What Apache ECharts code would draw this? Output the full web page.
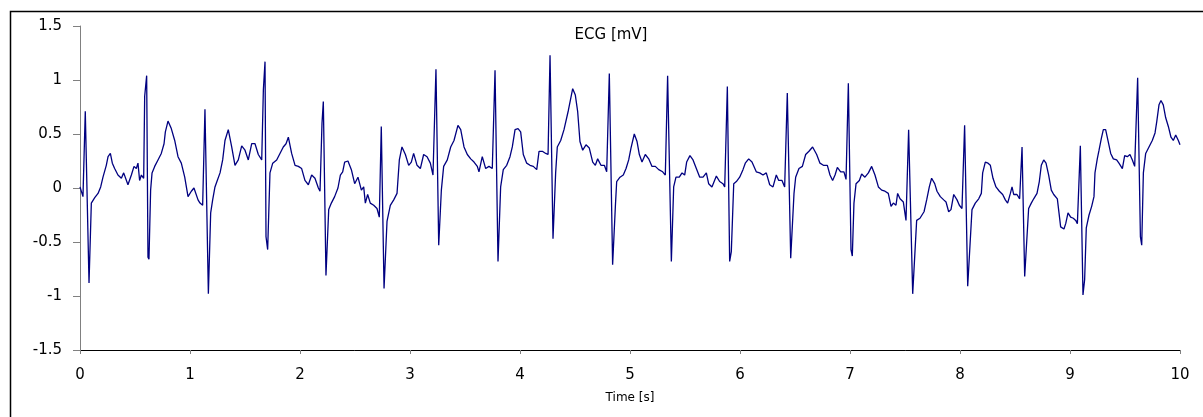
<!DOCTYPE html>
<html>
<head>
<meta charset="utf-8">
<script src="https://cdn.jsdelivr.net/npm/echarts@6/dist/echarts.min.js"></script>
<style>
html,body{margin:0;padding:0;background:#fff;}
#chart{width:1203px;height:417px;}
</style>
</head>
<body>
<div id="chart"></div>
<script>
var timeSec = [
0.000,0.027,0.048,0.082,0.103,0.134,0.164,0.188,0.209,0.239,0.255,0.276,0.294,0.315,0.345,0.376,0.397,0.436,0.467,0.491,
0.512,0.527,0.542,0.558,0.579,0.588,0.606,0.618,0.627,0.642,0.655,0.679,0.709,0.739,0.764,0.776,0.800,0.830,0.861,0.891,
0.921,0.952,0.982,1.012,1.036,1.073,1.091,1.115,1.136,1.167,1.188,1.206,1.227,1.248,1.273,1.297,1.318,1.348,1.379,1.409,
1.439,1.470,1.500,1.530,1.561,1.591,1.621,1.652,1.667,1.682,1.691,1.706,1.727,1.752,1.788,1.818,1.848,1.873,1.894,1.924,
1.955,1.985,2.015,2.045,2.076,2.106,2.136,2.167,2.182,2.200,2.212,2.236,2.261,2.285,2.315,2.345,2.367,2.388,2.406,2.436,
2.467,2.497,2.527,2.558,2.579,2.594,2.615,2.639,2.670,2.700,2.721,2.739,2.764,2.791,2.821,2.852,2.882,2.903,2.927,2.942,
2.958,2.988,3.012,3.033,3.064,3.094,3.124,3.155,3.185,3.209,3.236,3.261,3.285,3.306,3.339,3.370,3.400,3.436,3.461,3.491,
3.521,3.552,3.582,3.612,3.627,3.657,3.688,3.718,3.748,3.773,3.800,3.824,3.848,3.879,3.909,3.930,3.955,3.982,4.006,4.030,
4.061,4.091,4.121,4.152,4.173,4.203,4.234,4.255,4.273,4.300,4.324,4.339,4.370,4.400,4.440,4.479,4.503,4.524,4.545,4.570,
4.600,4.630,4.661,4.685,4.706,4.736,4.767,4.788,4.812,4.842,4.867,4.879,4.909,4.939,4.964,4.988,5.009,5.039,5.064,5.085,
5.109,5.139,5.170,5.200,5.230,5.261,5.297,5.321,5.342,5.376,5.397,5.418,5.448,5.473,5.497,5.515,5.545,5.573,5.603,5.634,
5.664,5.694,5.715,5.745,5.785,5.815,5.845,5.861,5.885,5.906,5.921,5.943,5.967,5.997,6.027,6.048,6.079,6.109,6.148,6.179,
6.209,6.239,6.270,6.300,6.330,6.352,6.382,6.406,6.430,6.461,6.491,6.506,6.536,6.567,6.597,6.627,6.660,6.697,6.727,6.758,
6.794,6.818,6.842,6.864,6.885,6.915,6.945,6.964,6.985,7.009,7.021,7.036,7.055,7.085,7.106,7.136,7.167,7.197,7.227,7.258,
7.288,7.318,7.348,7.373,7.394,7.418,7.433,7.455,7.485,7.509,7.533,7.570,7.606,7.636,7.673,7.697,7.721,7.742,7.770,7.791,
7.821,7.852,7.873,7.897,7.918,7.943,7.973,7.994,8.018,8.042,8.070,8.109,8.139,8.170,8.194,8.206,8.230,8.255,8.276,8.300,
8.327,8.358,8.388,8.412,8.433,8.458,8.473,8.488,8.518,8.542,8.564,8.588,8.624,8.648,8.670,8.700,8.721,8.739,8.761,8.782,
8.806,8.830,8.852,8.885,8.900,8.915,8.945,8.961,8.982,9.006,9.030,9.052,9.067,9.094,9.118,9.133,9.148,9.173,9.197,9.218,
9.227,9.248,9.264,9.285,9.303,9.324,9.345,9.370,9.394,9.424,9.445,9.476,9.497,9.521,9.545,9.567,9.588,9.615,9.640,9.652,
9.667,9.688,9.718,9.748,9.773,9.788,9.809,9.827,9.848,9.870,9.894,9.918,9.939,9.961,9.985,10.000
];
var ecgMv = [
0.01,-0.08,0.71,-0.88,-0.14,-0.09,-0.05,0.01,0.10,0.21,0.29,0.32,0.23,0.18,0.12,0.09,0.14,0.03,0.12,0.20,
0.18,0.23,0.07,0.12,0.09,0.85,1.04,-0.64,-0.66,-0.02,0.14,0.20,0.26,0.32,0.41,0.52,0.62,0.55,0.44,0.29,
0.23,0.10,-0.08,-0.03,0.00,-0.11,-0.14,-0.16,0.73,-0.98,-0.23,-0.11,0.01,0.07,0.14,0.26,0.44,0.54,0.38,0.21,
0.26,0.39,0.35,0.26,0.41,0.41,0.31,0.26,0.91,1.17,-0.45,-0.57,0.14,0.23,0.26,0.32,0.38,0.41,0.47,0.32,
0.21,0.20,0.18,0.07,0.03,0.12,0.09,0.00,-0.03,0.60,0.80,-0.81,-0.20,-0.14,-0.08,0.00,0.12,0.15,0.24,0.25,
0.17,0.04,0.10,-0.02,0.01,-0.14,-0.06,-0.14,-0.16,-0.19,-0.27,0.57,-0.93,-0.31,-0.16,-0.11,-0.05,0.26,0.38,0.39,
0.31,0.21,0.24,0.32,0.21,0.18,0.31,0.29,0.23,0.12,1.10,-0.53,-0.02,0.20,0.26,0.38,0.44,0.58,0.54,0.38,
0.31,0.27,0.24,0.20,0.15,0.29,0.18,0.20,0.18,1.09,-0.68,0.01,0.17,0.21,0.29,0.38,0.54,0.55,0.52,0.31,
0.23,0.21,0.20,0.17,0.34,0.34,0.32,0.31,1.23,-0.47,0.14,0.38,0.44,0.54,0.72,0.92,0.86,0.71,0.43,0.35,
0.40,0.37,0.24,0.21,0.27,0.21,0.21,0.15,1.06,-0.71,-0.17,0.06,0.10,0.12,0.18,0.26,0.37,0.50,0.43,0.31,
0.24,0.31,0.27,0.20,0.20,0.17,0.15,0.12,1.04,-0.68,0.01,0.10,0.10,0.14,0.12,0.24,0.30,0.26,0.18,0.10,
0.10,0.14,0.04,0.01,0.11,0.06,0.04,0.01,0.94,-0.68,-0.59,0.04,0.06,0.10,0.17,0.23,0.27,0.24,0.15,0.14,
0.12,0.14,0.03,0.01,0.12,0.07,0.07,0.01,0.88,-0.65,-0.05,0.10,0.18,0.20,0.31,0.34,0.38,0.31,0.23,0.21,
0.21,0.12,0.07,0.12,0.19,0.15,0.15,0.08,0.97,-0.57,-0.63,-0.14,0.04,0.07,0.13,0.10,0.14,0.20,0.12,0.01,
-0.02,-0.03,-0.05,-0.17,-0.14,-0.16,-0.05,-0.10,-0.13,-0.30,0.54,-0.98,-0.30,-0.28,-0.22,-0.11,0.01,0.09,0.04,-0.03,
-0.08,-0.11,-0.13,-0.22,-0.20,-0.06,-0.11,-0.16,-0.19,0.58,-0.91,-0.20,-0.14,-0.10,-0.05,0.14,0.24,0.23,0.21,0.09,
0.01,-0.03,-0.06,-0.11,-0.14,-0.05,0.01,-0.06,-0.06,-0.10,0.38,-0.82,-0.19,-0.14,-0.10,-0.05,0.06,0.21,0.26,0.23,
0.12,-0.02,-0.06,-0.10,-0.23,-0.36,-0.38,-0.33,-0.23,-0.27,-0.28,-0.30,-0.33,0.39,-0.99,-0.85,-0.37,-0.25,-0.17,-0.08,
0.14,0.27,0.35,0.46,0.54,0.54,0.44,0.32,0.27,0.26,0.23,0.18,0.30,0.29,0.31,0.26,0.20,1.02,-0.45,-0.53,
0.14,0.32,0.38,0.44,0.51,0.61,0.77,0.81,0.77,0.65,0.57,0.47,0.44,0.49,0.44,0.40
];
var xTickLabels = ['0','1','2','3','4','5','6','7','8','9','10'];
var yTickLabels = ['-1.5','-1','-0.5','0','0.5','1','1.5'];
var titleText = 'ECG [mV]';
var xAxisName = 'Time [s]';

var seriesData = timeSec.map(function (t, i) { return [t, ecgMv[i]]; });

var chart = echarts.init(document.getElementById('chart'));
var font = '"DejaVu Sans", Verdana, sans-serif';
chart.setOption({
  animation: false,
  backgroundColor: '#ffffff',
  grid: { left: 80, right: 23, top: 26, bottom: 67, containLabel: false },
  graphic: [
    { type: 'rect', silent: true, z: 100,
      shape: { x: 10.5, y: 11.5, width: 1300, height: 600 },
      style: { fill: 'none', stroke: '#000', lineWidth: 1.5 } },
    { type: 'text', silent: true, z: 100, x: 611, y: 35,
      style: { text: titleText, fill: '#000', font: '15px ' + font, textAlign: 'center', textVerticalAlign: 'middle' } }
  ],
  xAxis: {
    type: 'value', min: 0, max: 10, interval: 1,
    name: xAxisName, nameLocation: 'middle', nameGap: 42,
    nameTextStyle: { color: '#000', fontSize: 12, fontFamily: font },
    axisLine: { show: true, onZero: false, lineStyle: { color: '#000', width: 1 } },
    axisTick: { show: true, inside: false, length: 4, lineStyle: { color: '#808080' } },
    axisLabel: { color: '#000', fontSize: 15, fontFamily: font, margin: 18,
      formatter: function (v) { return xTickLabels[Math.round(v)]; } },
    splitLine: { show: false }
  },
  yAxis: {
    type: 'value', min: -1.5, max: 1.5, interval: 0.5,
    axisLine: { show: true, onZero: false, lineStyle: { color: '#808080', width: 1 } },
    axisTick: { show: true, inside: false, length: 7, lineStyle: { color: '#808080' } },
    axisLabel: { color: '#000', fontSize: 15, fontFamily: font, margin: 18,
      formatter: function (v) { return yTickLabels[Math.round((v + 1.5) / 0.5)]; } },
    splitLine: { show: false }
  },
  series: [{
    type: 'line', data: seriesData, showSymbol: false, symbol: 'none',
    lineStyle: { color: '#000080', width: 1.3 },
    itemStyle: { color: '#000080' }
  }]
});
</script>
</body>
</html>
